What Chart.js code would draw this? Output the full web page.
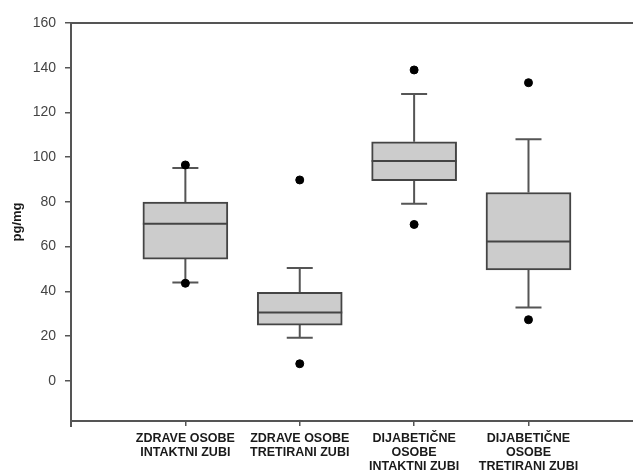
<!DOCTYPE html>
<html>
<head>
<meta charset="utf-8">
<script src="https://cdn.jsdelivr.net/npm/chart.js@4/dist/chart.umd.min.js"></script>
<style>
  html, body { margin: 0; padding: 0; background: #fff; }
  #wrap { width: 633px; height: 475px; }
</style>
</head>
<body>
<div id="wrap"><canvas id="chart"></canvas></div>
<script>
//categories on the x axis (multi-line labels)
const categories = [
  ["ZDRAVE OSOBE", "INTAKTNI ZUBI"],
  ["ZDRAVE OSOBE", "TRETIRANI ZUBI"],
  ["DIJABETIČNE", "OSOBE", "INTAKTNI ZUBI"],
  ["DIJABETIČNE", "OSOBE", "TRETIRANI ZUBI"]
];
//box plot values, pg/mg
const whiskerLow = [43.9, 19.2, 79.2, 32.8];
const q1 = [54.4, 24.9, 89.5, 49.6];
const median = [70.2, 30.5, 98.3, 62.3];
const q3 = [79.9, 39.6, 106.9, 84.2];
const whiskerHigh = [95.1, 50.4, 128.3, 108];
const outlierHigh = [96.5, 89.8, 139, 133.3];
const outlierLow = [43.6, 7.6, 69.9, 27.3];
//y tick labels
const yTicks = [0, 20, 40, 60, 80, 100, 120, 140, 160];

const lineColor = "#555555";
const font = "'Liberation Sans', Arial, sans-serif";

//boxes as floating bars
const boxData = categories.map((c, i) => ({ x: i + 1, y: [q1[i], q3[i]] }));
//outlier dots
const dotData = [];
categories.forEach((c, i) => {
  dotData.push({ x: i + 1, y: outlierHigh[i] });
  dotData.push({ x: i + 1, y: outlierLow[i] });
});

//draw whiskers, caps, medians and the frame lines
const boxPlotLines = {
  id: "boxPlotLines",
  beforeDatasetsDraw(chart) {
    const { ctx, scales: { x, y }, chartArea } = chart;
    ctx.save();
    ctx.strokeStyle = lineColor;
    ctx.lineWidth = 2;
    ctx.beginPath();
    for (let i = 0; i < categories.length; i++) {
      const px = x.getPixelForValue(i + 1);
      const capHalf = 13;
      //upper whisker
      ctx.moveTo(px, y.getPixelForValue(q3[i]));
      ctx.lineTo(px, y.getPixelForValue(whiskerHigh[i]));
      ctx.moveTo(px - capHalf, y.getPixelForValue(whiskerHigh[i]));
      ctx.lineTo(px + capHalf, y.getPixelForValue(whiskerHigh[i]));
      //lower whisker
      ctx.moveTo(px, y.getPixelForValue(q1[i]));
      ctx.lineTo(px, y.getPixelForValue(whiskerLow[i]));
      ctx.moveTo(px - capHalf, y.getPixelForValue(whiskerLow[i]));
      ctx.lineTo(px + capHalf, y.getPixelForValue(whiskerLow[i]));
    }
    ctx.stroke();
    //top frame line and x axis run out to the picture edge
    ctx.beginPath();
    ctx.moveTo(chartArea.left, chartArea.top);
    ctx.lineTo(chart.width, chartArea.top);
    ctx.moveTo(chartArea.right, chartArea.bottom);
    ctx.lineTo(chart.width, chartArea.bottom);
    //y axis sticks a bit below the x axis
    ctx.moveTo(chartArea.left, chartArea.bottom);
    ctx.lineTo(chartArea.left, chartArea.bottom + 6);
    ctx.stroke();
    ctx.restore();
  },
  afterDatasetDraw(chart, args) {
    if (args.index !== 0) return;
    const { ctx, scales: { y } } = chart;
    const meta = chart.getDatasetMeta(0);
    ctx.save();
    ctx.strokeStyle = "#444444";
    ctx.lineWidth = 2;
    ctx.beginPath();
    meta.data.forEach((bar, i) => {
      const half = bar.width / 2;
      const py = y.getPixelForValue(median[i]);
      ctx.moveTo(bar.x - half, py);
      ctx.lineTo(bar.x + half, py);
    });
    ctx.stroke();
    ctx.restore();
  }
};

new Chart(document.getElementById("chart"), {
  plugins: [boxPlotLines],
  data: {
    datasets: [
      {
        type: "bar",
        data: boxData,
        backgroundColor: "#cccccc",
        borderColor: "#444444",
        borderWidth: 2,
        borderSkipped: false,
        barThickness: 85,
        order: 2
      },
      {
        type: "scatter",
        data: dotData,
        backgroundColor: "#000000",
        borderColor: "#000000",
        pointRadius: 4,
        order: 1
      }
    ]
  },
  options: {
    responsive: true,
    maintainAspectRatio: false,
    animation: false,
    layout: { padding: { top: 23, right: 0, left: 0, bottom: 0 } },
    plugins: {
      legend: { display: false },
      tooltip: { enabled: false }
    },
    scales: {
      x: {
        type: "linear",
        offset: false,
        min: 0,
        max: 4.87,
        afterBuildTicks: (scale) => {
          scale.ticks = categories.map((c, i) => ({ value: i + 1 }));
        },
        afterFit: (scale) => { scale.height = 54; },
        grid: { offset: false, drawOnChartArea: false, drawTicks: true, tickLength: 5, color: lineColor, lineWidth: 1.5 },
        border: { color: lineColor, width: 2 },
        ticks: {
          autoSkip: false,
          maxRotation: 0,
          padding: 5,
          color: "#1a1a1a",
          font: { family: font, size: 12.5, weight: "bold", lineHeight: 1.15 },
          callback: (v) => categories[v - 1]
        }
      },
      y: {
        min: -18,
        max: 160,
        afterBuildTicks: (scale) => {
          scale.ticks = yTicks.map(v => ({ value: v }));
        },
        afterFit: (scale) => { scale.width = 71; },
        grid: { drawOnChartArea: false, drawTicks: true, tickLength: 6, color: lineColor, lineWidth: 1.5 },
        border: { color: lineColor, width: 2 },
        ticks: {
          padding: 9,
          color: "#444444",
          font: { family: font, size: 14 }
        },
        title: {
          display: true,
          text: "pg/mg",
          color: "#1a1a1a",
          padding: { top: 10, bottom: 0 },
          font: { family: font, size: 13, weight: "bold" }
        }
      }
    }
  }
});
</script>
</body>
</html>
